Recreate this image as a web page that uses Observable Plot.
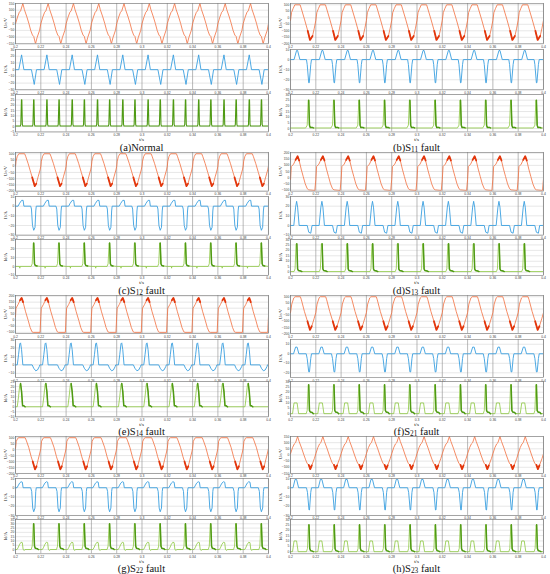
<!DOCTYPE html>
<html><head><meta charset="utf-8">
<script src="https://cdn.jsdelivr.net/npm/d3@7"></script>
<script src="https://cdn.jsdelivr.net/npm/@observablehq/plot@0.6"></script>
<style>
body{margin:0;background:#fff;}
#root{position:relative;width:550px;height:574px;overflow:hidden;font-family:"Liberation Serif",serif;color:#111;}
.lab{position:absolute;font-size:5px;white-space:nowrap;transform:translate(-50%,-50%) rotate(-90deg);}
.lab sub,.cap sub{font-size:70%;vertical-align:-0.25em;line-height:0;}
.cap{position:absolute;font-size:10.5px;white-space:nowrap;transform:translate(-50%,-50%);}
.ts{position:absolute;font-size:5px;white-space:nowrap;transform:translate(-50%,-50%);}
</style></head><body><div id="root"></div>
<script>
// ---- time axis ----
const T0 = 0.2, PERIOD = 0.02, NCYC = 10;
const xTicks = [0.2,0.22,0.24,0.26,0.28,0.3,0.32,0.34,0.36,0.38,0.4];

// ---- one period of each waveform: [phase 0..1, value] ----
// (a) Normal
const V_a = [[0,0],[0.08,50],[0.15,85],[0.2,95],[0.29,150],[0.35,105],[0.45,50],[0.53,0],[0.6,-50],[0.67,-85],[0.72,-95],[0.79,-150],[0.85,-105],[0.95,-50],[1,0]];
const I_a = [[0,0],[0.13,0],[0.24,22],[0.33,0],[0.63,0],[0.74,-22],[0.83,0],[1,0]];
const D_a = [[0,0.5],[0.19,0.5],[0.21,2],[0.235,25],[0.25,25],[0.27,2],[0.29,0.5],[0.67,0.5],[0.69,2],[0.715,25],[0.73,25],[0.75,2],[0.77,0.5],[1,0.5]];
// (b)
const V_b = [[0,-20],[0.04,40],[0.1,70],[0.17,100],[0.38,100],[0.42,75],[0.55,-10],[0.68,-100],[0.77,-170],[0.87,-140],[0.94,-80],[1,-20]];
const I_b = [[0,0],[0.14,0],[0.24,9],[0.28,9],[0.37,0],[0.63,0],[0.66,-5],[0.72,-23],[0.74,-23],[0.8,-5],[0.83,0],[1,0]];
const D_b = [[0,0.5],[0.6,0.5],[0.66,3],[0.7,25],[0.72,25],[0.75,3],[0.78,1],[0.86,1],[0.9,0.5],[1,0.5]];
// (c)
const V_c = [[0,0],[0.02,40],[0.07,80],[0.13,100],[0.36,100],[0.4,80],[0.5,20],[0.6,-50],[0.66,-90],[0.76,-160],[0.82,-140],[0.9,-80],[0.97,-30],[1,0]];
const I_c = [[0,0],[0.1,0],[0.16,3],[0.24,6],[0.3,6],[0.33,0],[0.6,0],[0.63,-3],[0.67,-20],[0.72,-25],[0.77,-22],[0.8,-5],[0.82,0],[1,0]];
const D_c = [[0,0],[0.16,0],[0.17,-2],[0.18,0],[0.62,0],[0.66,3],[0.7,26],[0.72,26],[0.75,3],[0.78,1],[0.85,0.5],[1,0]];
// (d)
const V_d = [[0,-15],[0.03,90],[0.12,110],[0.2,145],[0.28,175],[0.34,140],[0.42,70],[0.5,10],[0.58,-50],[0.66,-90],[0.72,-100],[0.96,-105],[1,-15]];
const I_d = [[0,0],[0.13,0],[0.2,19],[0.24,25],[0.28,19],[0.34,0],[0.66,0],[0.72,-7],[0.8,-8],[0.85,0],[1,0]];
const D_d = [[0,0.5],[0.14,0.5],[0.18,3],[0.22,26],[0.25,26],[0.28,3],[0.31,1.5],[0.4,1],[0.45,0.5],[1,0.5]];
// (e)
const V_e = [[0,30],[0.02,100],[0.1,130],[0.18,165],[0.24,185],[0.3,150],[0.4,70],[0.5,0],[0.58,-60],[0.65,-95],[0.7,-100],[0.97,-100],[1,30]];
const I_e = [[0,0],[0.07,0],[0.12,12],[0.17,25],[0.2,26],[0.24,18],[0.29,0],[0.66,0],[0.72,-4],[0.8,-7],[0.87,-6],[0.94,-2],[0.96,0],[1,0]];
const D_e = [[0,0],[0.07,0],[0.12,10],[0.17,22],[0.2,23],[0.24,15],[0.28,1],[0.32,1],[0.38,0],[1,0]];
// (f)
const V_f = [[0,-30],[0.05,40],[0.13,90],[0.18,100],[0.39,100],[0.43,75],[0.55,-20],[0.67,-100],[0.77,-170],[0.84,-140],[0.93,-80],[1,-30]];
const I_f = [[0,0],[0.12,0],[0.2,7],[0.26,7],[0.33,0],[0.62,0],[0.66,-5],[0.72,-19],[0.75,-19],[0.8,-5],[0.83,0],[1,0]];
const D_f = [[0,0],[0.08,0],[0.14,10],[0.26,10],[0.32,0],[0.62,0],[0.66,3],[0.7,27],[0.72,27],[0.75,3],[0.78,1.5],[0.86,1],[0.9,0],[1,0]];
// (g)
const V_g = [[0,10],[0.03,70],[0.09,95],[0.13,100],[0.38,100],[0.42,80],[0.52,20],[0.62,-60],[0.68,-100],[0.77,-165],[0.83,-140],[0.9,-80],[0.97,-20],[1,10]];
const I_g = [[0,0],[0.06,0],[0.1,2],[0.16,5],[0.22,6.5],[0.27,6],[0.3,0],[0.6,0],[0.64,-4],[0.68,-22],[0.72,-26],[0.77,-22],[0.8,-4],[0.82,0],[1,0]];
const D_g = [[0,0],[0.06,0],[0.1,2],[0.16,6],[0.22,8.5],[0.27,8],[0.3,0],[0.35,-1],[0.37,0],[0.62,0],[0.66,4],[0.7,30],[0.72,30],[0.75,4],[0.78,1.5],[0.86,1],[0.9,0],[1,0]];
// (h)
const V_h = [[0,10],[0.08,60],[0.15,90],[0.2,100],[0.28,150],[0.34,110],[0.44,55],[0.53,0],[0.6,-40],[0.66,-70],[0.72,-80],[0.78,-115],[0.84,-85],[0.94,-30],[1,10]];
const I_h = [[0,0],[0.1,0],[0.18,9],[0.24,9],[0.32,0],[0.63,0],[0.67,-5],[0.73,-24],[0.75,-24],[0.8,-5],[0.83,0],[1,0]];
const D_h = [[0,0],[0.08,0],[0.14,10],[0.24,10],[0.3,0],[0.63,0],[0.67,3],[0.71,25],[0.73,25],[0.76,3],[0.79,1],[0.86,0.5],[0.9,0],[1,0]];

// ---- phase ranges with dense ripple (drawn darker) ----
const ripV = [null,[0.68,0.87],[0.66,0.82],[0.2,0.34],[0.18,0.3],[0.67,0.84],[0.68,0.83],[0.72,0.84]];
const darkD = [[0,1],[0.72,0.9],[0.72,0.85],[0.25,0.45],[0.2,0.38],[0.72,0.9],[0.72,0.9],[0.73,0.9]];

// ---- axis domains and tick labels ----
const vDom = [[-150,150],[-200,110],[-200,110],[-110,205],[-110,205],[-200,110],[-200,110],[-150,150]];
const vTickSets = [[-150,-100,-50,0,50,100,150],[-200,-150,-100,-50,0,50,100],[-200,-150,-100,-50,0,50,100],[-100,-50,0,50,100,150,200],[-100,-50,0,50,100,150,200],[-200,-150,-100,-50,0,50,100],[-200,-150,-100,-50,0,50,100],[-150,-100,-50,0,50,100,150]];
const iDom = [[-30,30],[-30,10],[-30,10],[-10,30],[-15,30],[-25,15],[-30,10],[-30,10]];
const iTickSets = [[-30,-20,-10,0,10,20,30],[-30,-20,-10,0,10],[-30,-20,-10,0,10],[-10,0,10,20,30],[-10,0,10,20,30],[-20,-10,0,10],[-30,-20,-10,0,10],[-30,-20,-10,0,10]];
const dDom = [[-5,30],[-3,30],[-10,30],[-3,30],[-10,25],[-3,30],[-5,35],[-2,30]];
const dTickSets = [[-5,0,5,10,15,20,25,30],[0,5,10,15,20,25,30],[-10,0,10,20,30],[0,5,10,15,20,25,30],[-10,-5,0,5,10,15,20,25],[0,5,10,15,20,25,30],[0,5,10,15,20,25,30,35],[0,5,10,15,20,25,30]];

const captions = ["(a)Normal","(b)S<sub>11</sub> fault","(c)S<sub>12</sub> fault","(d)S<sub>13</sub> fault","(e)S<sub>14</sub> fault","(f)S<sub>21</sub> fault","(g)S<sub>22</sub> fault","(h)S<sub>23</sub> fault"];
const yLabels = ["U<sub>o</sub>/V","I<sub>f</sub>/A","I<sub>d</sub>/A"];

const Vs=[V_a,V_b,V_c,V_d,V_e,V_f,V_g,V_h];
const Is=[I_a,I_b,I_c,I_d,I_e,I_f,I_g,I_h];
const Ds=[D_a,D_b,D_c,D_d,D_e,D_f,D_g,D_h];

function tile(shape){
  const out=[];
  for(let k=0;k<NCYC;k++) for(const [p,v] of shape){
    if(k>0 && p===0) continue;
    out.push({t:T0+(k+p)*PERIOD, v, k, p});
  }
  return out;
}

// ---- layout ----
const rowTop=[3,152,295,436], capY=[147,290,431,568];
const colX=[[15,268],[290,543]];
const fr=[[0,0.28],[0.32,0.6],[0.63,0.89]];
const root=document.getElementById("root");

const C_V="#f36f3d", C_VR="#e2360c", C_I="#3a9fe0", C_DL="#8cc83f", C_DD="#4f9a14";

function sub(x0,x1,y0,y1,data,dom,ticks,color,sw,hiRange,hiColor,hiW){
  const mL=13,mR=2,mT=1,mB=6;
  const w=x1-x0,h=y1-y0;
  const marks=[
    Plot.gridY(ticks,{stroke:"#cfcfcf",strokeOpacity:1,strokeWidth:0.5}),
    Plot.gridX(xTicks,{stroke:"#8c8c8c",strokeOpacity:1,strokeWidth:0.6}),
    Plot.line(data,{x:"t",y:"v",z:null,stroke:color,strokeWidth:sw,clip:true})
  ];
  if(hiRange){
    const hd=data.filter(d=>d.p>=hiRange[0]&&d.p<=hiRange[1]);
    marks.push(Plot.line(hd,{x:"t",y:"v",z:"k",stroke:hiColor,strokeWidth:hiW,clip:true}));
  }
  marks.push(
    Plot.frame({stroke:"#777",strokeWidth:0.6}),
    Plot.axisX(xTicks,{tickSize:0,tickPadding:1.6,tickFormat:d=>String(d),fill:"#444",label:null}),
    Plot.axisY(ticks,{tickSize:0,tickPadding:1.2,fill:"#444",label:null})
  );
  const svg=Plot.plot({
    width:w+mL+mR,height:h+mT+mB,marginLeft:mL,marginRight:mR,marginTop:mT,marginBottom:mB,
    x:{domain:[T0,T0+NCYC*PERIOD],label:null},
    y:{domain:dom,label:null},
    style:{fontSize:"3.4px",fontFamily:"Liberation Sans",background:"transparent",overflow:"visible"},
    marks
  });
  svg.style.position="absolute";
  svg.style.left=(x0-mL)+"px";
  svg.style.top=(y0-mT)+"px";
  root.appendChild(svg);
}

for(let i=0;i<8;i++){
  const r=Math.floor(i/2), c=i%2;
  const [x0,x1]=colX[c];
  const top=rowTop[r], span=capY[r]-rowTop[r];
  const Y=f=>top+f*span;
  const vData=tile(Vs[i]), iData=tile(Is[i]), dData=tile(Ds[i]);
  sub(x0,x1,Y(fr[0][0]),Y(fr[0][1]),vData,vDom[i],vTickSets[i],C_V,0.8,ripV[i],C_VR,1.8);
  sub(x0,x1,Y(fr[1][0]),Y(fr[1][1]),iData,iDom[i],iTickSets[i],C_I,0.9,null,null,0);
  if(i===0) sub(x0,x1,Y(fr[2][0]),Y(fr[2][1]),dData,dDom[i],dTickSets[i],C_DD,1.1,null,null,0);
  else sub(x0,x1,Y(fr[2][0]),Y(fr[2][1]),dData,dDom[i],dTickSets[i],C_DL,0.8,darkD[i],C_DD,1.5);
  // y labels
  for(let j=0;j<3;j++){
    const d=document.createElement("div");
    d.className="lab";
    d.innerHTML=yLabels[j];
    d.style.left=(x0-10)+"px";
    d.style.top=((Y(fr[j][0])+Y(fr[j][1]))/2)+"px";
    root.appendChild(d);
  }
  const ts=document.createElement("div");
  ts.className="ts"; ts.textContent="t/s";
  ts.style.left=((x0+x1)/2)+"px"; ts.style.top=Y(0.945)+"px";
  root.appendChild(ts);
  const cp=document.createElement("div");
  cp.className="cap"; cp.innerHTML=captions[i];
  cp.style.left=((x0+x1)/2)+"px"; cp.style.top=capY[r]+"px";
  root.appendChild(cp);
}
</script></body></html>
